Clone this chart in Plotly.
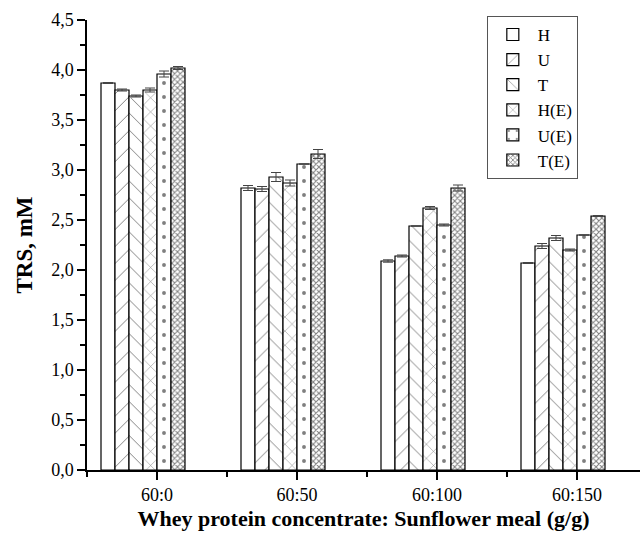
import plotly.graph_objects as go

categories = ["60:0", "60:50", "60:100", "60:150"]
series_names = ["H", "U", "T", "H(E)", "U(E)", "T(E)"]
H = [3.87, 2.82, 2.09, 2.07]
U = [3.80, 2.81, 2.14, 2.24]
T = [3.74, 2.93, 2.44, 2.32]
HE = [3.80, 2.87, 2.62, 2.20]
UE = [3.96, 3.06, 2.45, 2.35]
TE = [4.02, 3.16, 2.82, 2.54]
H_err = [0.005, 0.025, 0.012, 0.005]
U_err = [0.01, 0.025, 0.01, 0.025]
T_err = [0.01, 0.045, 0.0, 0.025]
HE_err = [0.02, 0.03, 0.015, 0.01]
UE_err = [0.03, 0.0, 0.01, 0.0]
TE_err = [0.015, 0.045, 0.03, 0.005]

values = [H, U, T, HE, UE, TE]
errors = [H_err, U_err, T_err, HE_err, UE_err, TE_err]
patterns = [
    dict(shape=""),
    dict(shape="/", size=12, solidity=0.08, fgcolor="black", bgcolor="white"),
    dict(shape="\\", size=12, solidity=0.08, fgcolor="black", bgcolor="white"),
    dict(shape="x", size=10, solidity=0.1, fgcolor="black", bgcolor="white"),
    dict(shape=".", size=14, solidity=0.06, fgcolor="black", bgcolor="white"),
    dict(shape="x", size=4, solidity=0.45, fgcolor="black", bgcolor="white"),
]

xpos = list(range(1, len(categories) + 1))
slot = 0.1  # 8 slots per group, last two empty (as in reference)

fig = go.Figure()
for i, (name, v, e, p) in enumerate(zip(series_names, values, errors, patterns)):
    fig.add_trace(go.Bar(
        x=xpos, y=v, name=name,
        width=slot, offset=-0.4 + i * slot,
        marker=dict(color="white", line=dict(color="black", width=1.2), pattern=p),
        error_y=dict(type="data", array=e, visible=True, color="#444", thickness=1, width=5),
    ))

font_family = "Liberation Serif"
fig.update_layout(
    width=640, height=533,
    margin=dict(l=87, r=0, t=20, b=63),
    paper_bgcolor="white", plot_bgcolor="white",
    barmode="overlay",
    separators=",.",
    font=dict(family=font_family, color="black", size=18),
    showlegend=True,
    legend=dict(x=0.723, y=1.009, xanchor="left", yanchor="top",
                bordercolor="#555", borderwidth=1, bgcolor="white",
                font=dict(family=font_family, size=17), tracegroupgap=0,
                itemwidth=40),
    xaxis=dict(
        range=[0.5, 4.45], tickmode="array", tickvals=xpos, ticktext=categories,
        showline=True, linecolor="black", linewidth=1.5, mirror=False,
        ticks="outside", ticklen=8, tickwidth=1.5, tickcolor="black",
        minor=dict(tickmode="array", tickvals=[0.5, 1.5, 2.5, 3.5], ticks="outside",
                   ticklen=5, tickwidth=1.5, tickcolor="black"),
        showgrid=False, zeroline=False,
        tickfont=dict(size=18),
        title=dict(text="<b>Whey protein concentrate: Sunflower meal (g/g)</b>",
                   font=dict(size=22), standoff=6),
    ),
    yaxis=dict(
        range=[0, 4.5], tick0=0, dtick=0.5, tickformat=".1f",
        showline=True, linecolor="black", linewidth=1.5,
        ticks="outside", ticklen=8, tickwidth=1.5, tickcolor="black",
        minor=dict(dtick=0.25, ticks="outside", ticklen=5, tickwidth=1.5, tickcolor="black"),
        showgrid=False, zeroline=False,
        tickfont=dict(size=18),
        title=dict(text="<b>TRS, mM</b>", font=dict(size=23), standoff=12),
    ),
)

fig.write_html("out.html")
